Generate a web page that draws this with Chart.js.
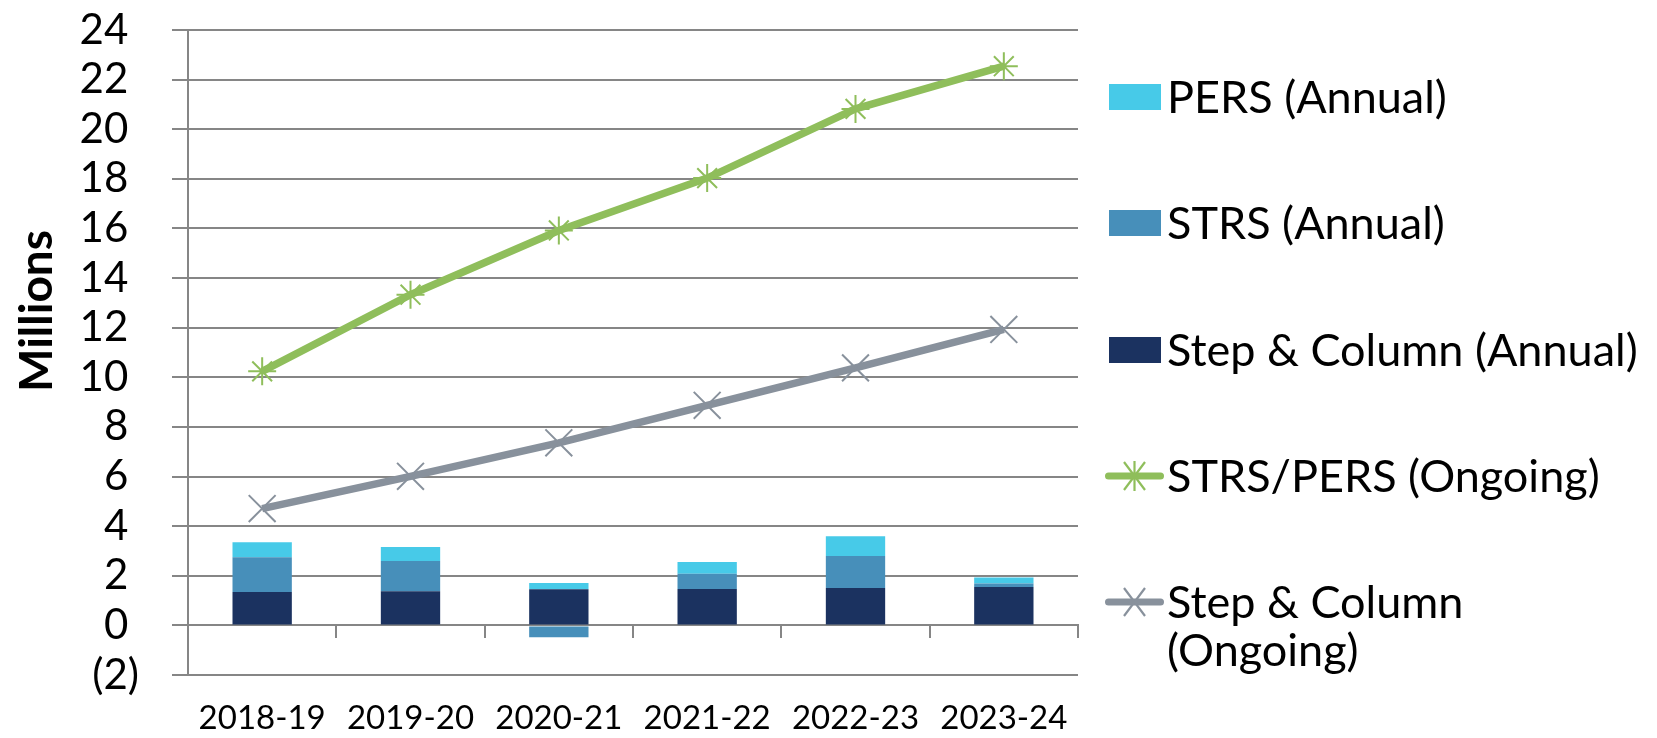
<!DOCTYPE html>
<html>
<head>
<meta charset="utf-8">
<script src="https://cdn.jsdelivr.net/npm/chart.js@4.4.1/dist/chart.umd.min.js"></script>
<style>
  html, body { margin: 0; padding: 0; background: #ffffff; }
  #wrap { position: relative; width: 1657px; height: 738px; overflow: hidden; }
  #c { position: absolute; left: 0; top: 0; }
  #legend { position: absolute; left: 0; top: 0; width: 1657px; height: 738px; pointer-events: none;
            font-family: Lato, "Open Sans", sans-serif; font-size: 45px; color: #000; }
  .item { position: absolute; left: 1100px; width: 557px; }
  .sym { position: absolute; left: 0; top: 0; }
  .txt { position: absolute; left: 67px; top: 0; width: 485px; line-height: 48px; }
  #ytitle { position: absolute; left: 35px; top: 311px; width: 0; height: 0; pointer-events: none; }
  #ytitle span { position: absolute; left: 0; top: 0; transform: translate(-50%, -50%) rotate(-90deg);
                 font-family: Lato, "Open Sans", sans-serif; font-weight: bold; font-size: 46px; color: #000;
                 white-space: nowrap; line-height: 1; }
</style>
</head>
<body>
<div id="wrap">
  <canvas id="c" width="1657" height="738"></canvas>
  <div id="ytitle"><span>Millions</span></div>
  <div id="legend"></div>
</div>
<script>
const categories = ['2018-19', '2019-20', '2020-21', '2021-22', '2022-23', '2023-24'];
const stepAnnual = [1.35, 1.38, 1.46, 1.47, 1.51, 1.55];
const strsAnnual = [1.40, 1.22, -0.48, 0.61, 1.29, 0.14];
const persAnnual = [0.60, 0.56, 0.25, 0.48, 0.79, 0.24];
const strsPersOngoing = [10.24, 13.33, 15.92, 18.03, 20.82, 22.54];
const stepOngoing = [4.71, 6.01, 7.36, 8.87, 10.38, 11.93];
const yMin = -2, yMax = 24, yStep = 2;

const COL = {
  pers: '#47CAE8',
  strs: '#478FBA',
  step: '#1B3260',
  green: '#8FBE5B',
  gray: '#88919C',
  grid: '#868686'
};

const FONT = 'Lato, "Open Sans", sans-serif';

const datasets = [
  { type: 'line', label: 'STRS/PERS (Ongoing)', data: strsPersOngoing, stack: 'l1', order: 0,
    borderColor: COL.green, backgroundColor: COL.green, borderWidth: 7.5, tension: 0,
    pointStyle: 'star', pointRadius: 14, pointBorderWidth: 2, pointBorderColor: COL.green, fill: false },
  { type: 'line', label: 'Step & Column (Ongoing)', data: stepOngoing, stack: 'l2', order: 0,
    borderColor: COL.gray, backgroundColor: COL.gray, borderWidth: 7.5, tension: 0,
    pointStyle: 'crossRot', pointRadius: 19, pointBorderWidth: 2, pointBorderColor: COL.gray, fill: false },
  { type: 'bar', label: 'Step & Column (Annual)', data: stepAnnual, stack: 'bars', order: 1,
    backgroundColor: COL.step, borderWidth: 0 },
  { type: 'bar', label: 'STRS (Annual)', data: strsAnnual, stack: 'bars', order: 1,
    backgroundColor: COL.strs, borderWidth: 0 },
  { type: 'bar', label: 'PERS (Annual)', data: persAnnual, stack: 'bars', order: 1,
    backgroundColor: COL.pers, borderWidth: 0 }
];

const chart = new Chart(document.getElementById('c'), {
  data: { labels: categories, datasets: datasets },
  options: {
    responsive: false,
    animation: false,
    devicePixelRatio: 1,
    layout: { padding: { left: 0, right: 579, top: 0, bottom: 0 } },
    datasets: { bar: { categoryPercentage: 1.0, barPercentage: 0.40 } },
    plugins: { legend: { display: false }, tooltip: { enabled: false } },
    scales: {
      x: {
        type: 'category', position: 'bottom', stacked: true,
        grid: { display: false, drawTicks: false },
        border: { display: false },
        ticks: { font: { family: FONT, size: 33 }, color: '#000', padding: 24, maxRotation: 0, autoSkip: false },
        afterFit: (s) => { s.height = 63; }
      },
      x2: {
        type: 'category', position: { y: 0 }, stacked: true, offset: true,
        grid: { display: true, offset: true, drawOnChartArea: false, drawTicks: true, tickLength: 12, color: COL.grid, lineWidth: 2 },
        border: { display: true, color: COL.grid, width: 2 },
        ticks: { display: true, color: 'rgba(0,0,0,0)', font: { size: 1 }, padding: 0, autoSkip: false, maxRotation: 0 }
      },
      y: {
        type: 'linear', position: 'left', stacked: true,
        min: yMin, max: yMax,
        grid: { color: COL.grid, lineWidth: 2, tickLength: 16, drawTicks: true },
        border: { display: true, color: COL.grid, width: 2 },
        ticks: {
          stepSize: yStep, autoSkip: false, font: { family: FONT, size: 42 }, color: '#000', padding: 33,
          callback: (v) => v < 0 ? '(' + (-v) + ')' : v + ' '
        },
        title: { display: false },
        afterFit: (s) => { s.width = 188; s.paddingTop = 30; s.paddingBottom = 25; }
      }
    }
  }
});

// HTML legend built from datasets (order as in reference)
const legendOrder = [4, 3, 2, 0, 1];
const legendEl = document.getElementById('legend');
const rowCenter0 = 97, rowGap = 126.3;
legendOrder.forEach((di, i) => {
  const ds = datasets[di];
  const c = rowCenter0 + i * rowGap;
  const item = document.createElement('div');
  item.className = 'item';
  item.style.top = (c - 25) + 'px';
  let sym;
  if (ds.type === 'bar') {
    sym = '<svg class="sym" width="70" height="50" style="top:12px"><rect x="9" y="0" width="52" height="26" fill="' + ds.backgroundColor + '"/></svg>';
  } else {
    const col = ds.borderColor;
    let marks = '<line x1="24" y1="11" x2="45" y2="39" stroke="' + col + '" stroke-width="2.2"/>' +
                '<line x1="24" y1="39" x2="45" y2="11" stroke="' + col + '" stroke-width="2.2"/>';
    if (ds.pointStyle === 'star') marks += '<line x1="34.5" y1="10" x2="34.5" y2="40" stroke="' + col + '" stroke-width="2.2"/>';
    sym = '<svg class="sym" width="70" height="50" style="top:0px">' +
          '<line x1="8.5" y1="25" x2="60.5" y2="25" stroke="' + col + '" stroke-width="7" stroke-linecap="round"/>' +
          marks + '</svg>';
  }
  item.innerHTML = sym + '<div class="txt">' + ds.label + '</div>';
  legendEl.appendChild(item);
});
</script>
</body>
</html>
